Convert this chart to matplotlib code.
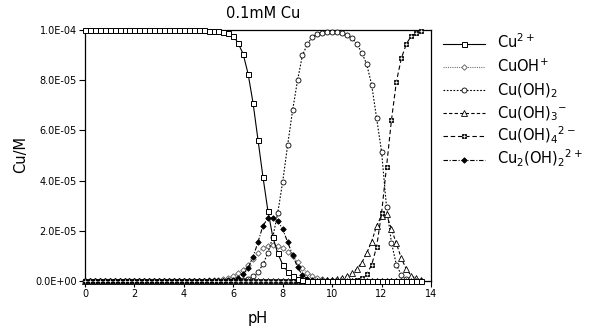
import numpy as np
import matplotlib
matplotlib.use("Agg")
import matplotlib.pyplot as plt
from matplotlib.lines import Line2D
from matplotlib.ticker import FuncFormatter

plt.rcParams['font.family'] = ['DejaVu Sans']
plt.rcParams['mathtext.default'] = 'regular'

# pH grid, 0 to 13.6 in 0.2 steps
ph = np.round(np.arange(69) * 0.2, 1)

# concentrations, in units of 1e-5 M (one line = 2 pH units)
cu = [10, 10, 10, 10, 10, 10, 10, 10, 10, 10,
      10, 10, 10, 10, 10, 10, 10, 10, 10, 10,
      10, 10, 10, 10, 10, 9.98, 9.97, 9.95, 9.92, 9.87,
      9.77, 9.47, 9.04, 8.25, 7.09, 5.62, 4.15, 2.8, 1.75, 1.1,
      0.65, 0.37, 0.2, 0.085, 0.035, 0.014, 0.006, 0.002, 0.001, 0,
      0, 0, 0, 0, 0, 0, 0, 0, 0, 0,
      0, 0, 0, 0, 0, 0, 0, 0, 0]
cuoh = [0, 0, 0, 0, 0, 0, 0, 0, 0, 0,
        0, 0, 0, 0, 0, 0, 0, 0, 0, 0.001,
        0.002, 0.003, 0.005, 0.008, 0.013, 0.02, 0.032, 0.05, 0.079, 0.124,
        0.195, 0.30, 0.45, 0.65, 0.89, 1.12, 1.31, 1.40, 1.42, 1.38,
        1.30, 1.17, 1.0, 0.75, 0.5, 0.32, 0.2, 0.12, 0.075, 0.047,
        0.03, 0.019, 0.012, 0.007, 0.004, 0.003, 0.002, 0.001, 0, 0,
        0, 0, 0, 0, 0, 0, 0, 0, 0]
cuoh2 = [0, 0, 0, 0, 0, 0, 0, 0, 0, 0,
         0, 0, 0, 0, 0, 0, 0, 0, 0, 0,
         0, 0, 0, 0, 0, 0, 0, 0, 0, 0.002,
         0.006, 0.015, 0.037, 0.085, 0.18, 0.36, 0.66, 1.12, 1.75, 2.72,
         3.96, 5.42, 6.8, 8.0, 9.0, 9.44, 9.73, 9.84, 9.9, 9.93,
         9.94, 9.92, 9.88, 9.8, 9.68, 9.44, 9.1, 8.63, 7.81, 6.48,
         5.15, 2.95, 1.53, 0.64, 0.24, 0.08, 0.03, 0.01, 0.003]
cuoh3 = [0, 0, 0, 0, 0, 0, 0, 0, 0, 0,
         0, 0, 0, 0, 0, 0, 0, 0, 0, 0,
         0, 0, 0, 0, 0, 0, 0, 0, 0, 0,
         0, 0, 0, 0, 0, 0, 0, 0, 0, 0,
         0, 0, 0, 0, 0, 0.006, 0.008, 0.013, 0.02, 0.032,
         0.05, 0.08, 0.125, 0.2, 0.31, 0.48, 0.73, 1.12, 1.57, 2.2,
         2.6, 2.65, 2.06, 1.5, 0.9, 0.48, 0.21, 0.1, 0.04]
cuoh4 = [0, 0, 0, 0, 0, 0, 0, 0, 0, 0,
         0, 0, 0, 0, 0, 0, 0, 0, 0, 0,
         0, 0, 0, 0, 0, 0, 0, 0, 0, 0,
         0, 0, 0, 0, 0, 0, 0, 0, 0, 0,
         0, 0, 0, 0, 0, 0, 0, 0, 0, 0,
         0, 0, 0.002, 0.005, 0.015, 0.04, 0.12, 0.28, 0.64, 1.37,
         2.7, 4.55, 6.41, 7.94, 8.87, 9.44, 9.76, 9.88, 9.95]
dimer = [0, 0, 0, 0, 0, 0, 0, 0, 0, 0,
         0, 0, 0, 0, 0, 0, 0, 0, 0, 0,
         0, 0, 0, 0, 0, 0, 0, 0.004, 0.009, 0.021,
         0.05, 0.12, 0.27, 0.52, 0.95, 1.55, 2.2, 2.5, 2.5, 2.4,
         2.06, 1.55, 1.04, 0.55, 0.23, 0.09, 0.035, 0.013, 0.005, 0.002,
         0, 0, 0, 0, 0, 0, 0, 0, 0, 0,
         0, 0, 0, 0, 0, 0, 0, 0, 0]

labels = [r'Cu$^{2+}$', r'CuOH$^{+}$', r'Cu(OH)$_2$', r'Cu(OH)$_3$$^{-}$',
          r'Cu(OH)$_4$$^{2-}$', r'Cu$_2$(OH)$_2$$^{2+}$']

scale = 1e-5

# line / marker style per species
styles = [
    dict(color='black', ls='-', marker='s', ms=3.6, mfc='white', mec='black', mew=0.7),
    dict(color='0.45', ls=(0, (1, 1)), marker='D', ms=2.8, mfc='white', mec='0.35', mew=0.6),
    dict(color='black', ls=(0, (1.5, 1.5)), marker='o', ms=3.6, mfc='white', mec='black', mew=0.6),
    dict(color='black', ls=(0, (3, 2)), marker='^', ms=4, mfc='white', mec='black', mew=0.6),
    dict(color='black', ls=(0, (4, 2.5)), marker='s', ms=3.4, mfc='0.15', mec='black', mew=0.6),
    dict(color='black', ls=(0, (4, 1.5, 1, 1.5)), marker='D', ms=2.8, mfc='black', mec='black', mew=0.6),
]
zorders = [5, 3, 3, 3, 4, 4]
cross = dict(ls='none', marker='+', ms=2.8, mec='white', mew=0.5)

fig = plt.figure(figsize=(5.98, 3.34), dpi=100)
ax = fig.add_axes([85 / 598, 1 - 281 / 334, 346 / 598, 251 / 334])

series = [cu, cuoh, cuoh2, cuoh3, cuoh4, dimer]
for i, vals in enumerate(series):
    y = np.array(vals) * scale
    ax.plot(ph, y, lw=0.8, clip_on=False, zorder=zorders[i], **styles[i])
    if i == 4:
        ax.plot(ph, y, clip_on=False, zorder=zorders[i] + 0.1, **cross)

ax.set_xlim(0, 14)
ax.set_ylim(0, 1e-4)
ax.set_xticks(np.arange(0, 15, 2))
ax.set_yticks(np.arange(0, 6) * 2e-5)
ax.yaxis.set_major_formatter(FuncFormatter(lambda v, p: '%.1E' % v))
ax.tick_params(direction='out', length=4, width=0.8, labelsize=7, pad=2)
for s in ax.spines.values():
    s.set_linewidth(0.9)

fig.text(263 / 598, 1 - 13 / 334, '0.1mM Cu', ha='center', va='center', fontsize=10.5)
fig.text(258 / 598, 1 - 318 / 334, 'pH', ha='center', va='center', fontsize=10.5)
fig.text(21 / 598, 1 - 155 / 334, 'Cu/M', ha='center', va='center', fontsize=10.5,
         rotation=90)

# legend outside the axes, evenly spaced rows
for i, lab in enumerate(labels):
    yy = 1 - (43.5 + 23.2 * i) / 334
    st = dict(styles[i])
    mk = dict(marker=st.pop('marker'), ms=st.pop('ms'), mfc=st.pop('mfc'),
              mec=st.pop('mec'), mew=st.pop('mew'))
    fig.add_artist(Line2D([443 / 598, 485 / 598], [yy, yy], transform=fig.transFigure,
                          lw=0.8, **st))
    fig.add_artist(Line2D([464 / 598], [yy], transform=fig.transFigure, ls='none', **mk))
    if i == 4:
        fig.add_artist(Line2D([464 / 598], [yy], transform=fig.transFigure, **cross))
    fig.text(497 / 598, yy - 5 / 334, lab, ha='left', va='baseline', fontsize=10.5)

fig.savefig('out.png', dpi=100)
